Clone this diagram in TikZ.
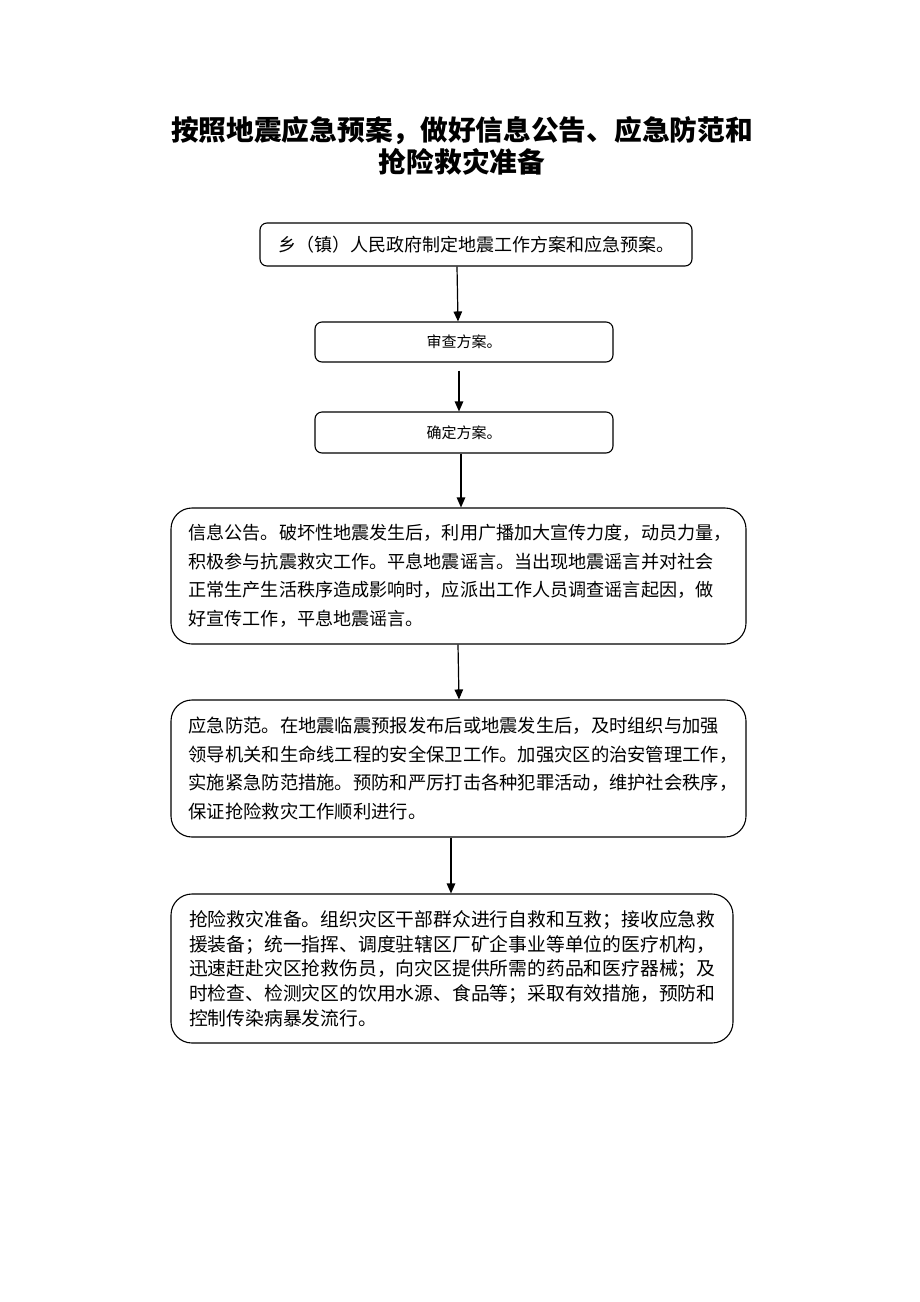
\documentclass[tikz,border=0pt]{standalone}
\usepackage{fontspec}
\setmainfont{Noto Sans CJK SC}
\usetikzlibrary{arrows.meta}
\tikzset{
  box/.style={draw=black, line width=1.1pt, rounded corners=7pt, inner sep=0pt, align=center},
  bigbox/.style={draw=black, line width=1.1pt, rounded corners=21pt, inner sep=0pt, align=left},
  arr/.style={draw=black, line width=1.2pt, -{Triangle[length=10pt,width=8.5pt]}},
  titletext/.style={font=\fontsize{27.7}{32}\selectfont\bfseries, align=center}
}
\begin{document}
\begin{tikzpicture}[x=1pt,y=-1pt]
\useasboundingbox (0,0) rectangle (920,1302);
\node[titletext] (title) at (462,146) {按照地震应急预案，做好信息公告、应急防范和\\抢险救灾准备};

\node[box, minimum width=432pt, minimum height=43pt, font=\fontsize{18}{22}\selectfont] (b1) at (476,244.5) {乡（镇）人民政府制定地震工作方案和应急预案。};
\node[box, minimum width=298pt, minimum height=40pt, font=\fontsize{15}{18}\selectfont] (b2) at (464,342) {审查方案。};
\node[box, minimum width=298pt, minimum height=41pt, font=\fontsize{15}{18}\selectfont] (b3) at (464,432.5) {确定方案。};

\node[bigbox, minimum width=575pt, minimum height=136pt, text width=540pt, font=\fontsize{18.1}{28.5}\selectfont] (b4) at (458.5,576) {信息公告。破坏性地震发生后，利用广播加大宣传力度，动员力量，\\积极参与抗震救灾工作。平息地震谣言。当出现地震谣言并对社会\\正常生产生活秩序造成影响时，应派出工作人员调查谣言起因，做\\好宣传工作，平息地震谣言。};

\node[bigbox, minimum width=575pt, minimum height=137pt, text width=540pt, font=\fontsize{18.3}{28.7}\selectfont] (b5) at (458.5,768.5) {应急防范。在地震临震预报发布后或地震发生后，及时组织与加强\\领导机关和生命线工程的安全保卫工作。加强灾区的治安管理工作，\\实施紧急防范措施。预防和严厉打击各种犯罪活动，维护社会秩序，\\保证抢险救灾工作顺利进行。};

\node[bigbox, minimum width=562pt, minimum height=149pt, text width=526pt, font=\fontsize{18.8}{24.7}\selectfont] (b6) at (452,968.5) {抢险救灾准备。组织灾区干部群众进行自救和互救；接收应急救\\援装备；统一指挥、调度驻辖区厂矿企事业等单位的医疗机构，\\迅速赶赴灾区抢救伤员，向灾区提供所需的药品和医疗器械；及\\时检查、检测灾区的饮用水源、食品等；采取有效措施，预防和\\控制传染病暴发流行。};

\draw[arr] ([xshift=-19pt]b1.south) -- ([xshift=-6pt]b2.north);
\draw[arr] ([xshift=-5pt,yshift=-8pt]b2.south) -- ([xshift=-5pt]b3.north);
\draw[arr] ([xshift=-3pt]b3.south) -- ([xshift=2.5pt]b4.north);
\draw[arr] ([xshift=-0.5pt]b4.south) -- ([xshift=0.5pt]b5.north);
\draw[arr] ([xshift=-7.5pt]b5.south) -- ([xshift=-1pt]b6.north);
\end{tikzpicture}
\end{document}
